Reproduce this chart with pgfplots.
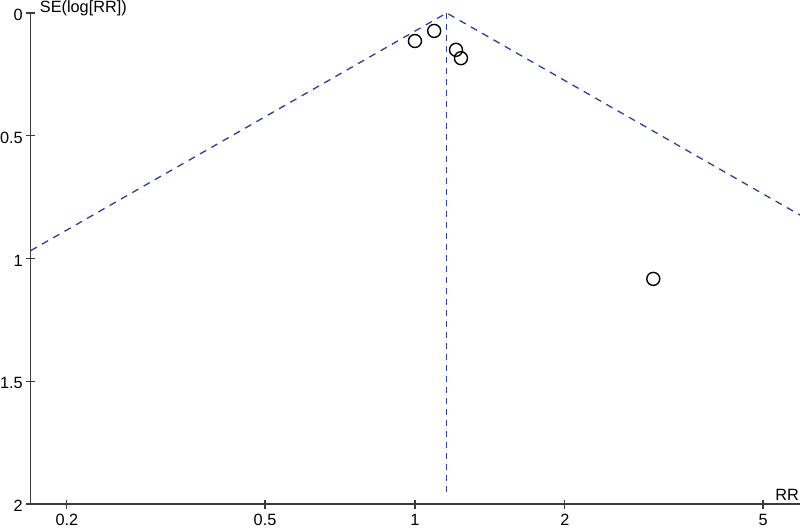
\documentclass[border=0pt]{standalone}
\usepackage{pgfplots}
\pgfplotsset{compat=1.18}
\usepackage{fontspec}
\setmainfont{Liberation Sans}
\definecolor{axisgray}{HTML}{3A3A3A}
\definecolor{funnelblue}{HTML}{2E3F9A}
\begin{document}
\begin{tikzpicture}
\begin{axis}[
  name=ax,
  scale only axis,
  width=769.3pt, height=491pt,
  xmode=log,
  xmin=0.1692, xmax=5.932,
  ymin=0, ymax=2,
  y dir=reverse,
  axis x line*=bottom,
  axis y line*=left,
  axis line style={axisgray, line width=1.3pt},
  every tick/.style={axisgray, line width=1.2pt},
  tick align=center,
  major tick length=9pt,
  xtick={0.2,0.5,1,2,5},
  xticklabels={0.2,0.5,1,2,5},
  ytick={0,0.5,1,1.5,2},
  yticklabels={0,0.5,1,1.5,2},
  minor xtick={},
  /pgf/number format/assume math mode=true,
  ticklabel style={font=\fontsize{16.3}{18}\selectfont, text=black},
  xticklabel style={anchor=north, yshift=-2pt},
  yticklabel style={anchor=east, yshift=-2pt},
  clip=false,
]
% funnel lines
\addplot[funnelblue, line width=1.3pt, dash pattern=on 7pt off 6pt]
  coordinates {(0.1692,0.968) (1.158,0) (5.932,0.823)};
\addplot[funnelblue, line width=1.3pt, dash pattern=on 6pt off 5pt]
  coordinates {(1.158,0) (1.158,1.97)};
% studies
\addplot[only marks, mark=o, mark size=6.5pt, mark options={line width=1.4pt, draw=black}]
  coordinates {
    (1.000,0.114)
    (1.093,0.073)
    (1.209,0.150)
    (1.237,0.184)
    (3.010,1.083)
  };
\node[anchor=base west, font=\fontsize{16.3}{18}\selectfont, inner sep=0pt]
  at ([xshift=9pt, yshift=1pt]axis description cs:0,1) {SE(log[RR])};
\node[anchor=base east, font=\fontsize{16.3}{18}\selectfont, inner sep=0pt]
  at ([xshift=-1pt, yshift=4pt]axis description cs:1,0) {RR};
\coordinate (O) at (axis description cs:0,0);
\end{axis}
\pgfresetboundingbox
\path ([xshift=-30.7pt, yshift=-24pt]O) rectangle ++(800pt,528pt);
\end{tikzpicture}
\end{document}
